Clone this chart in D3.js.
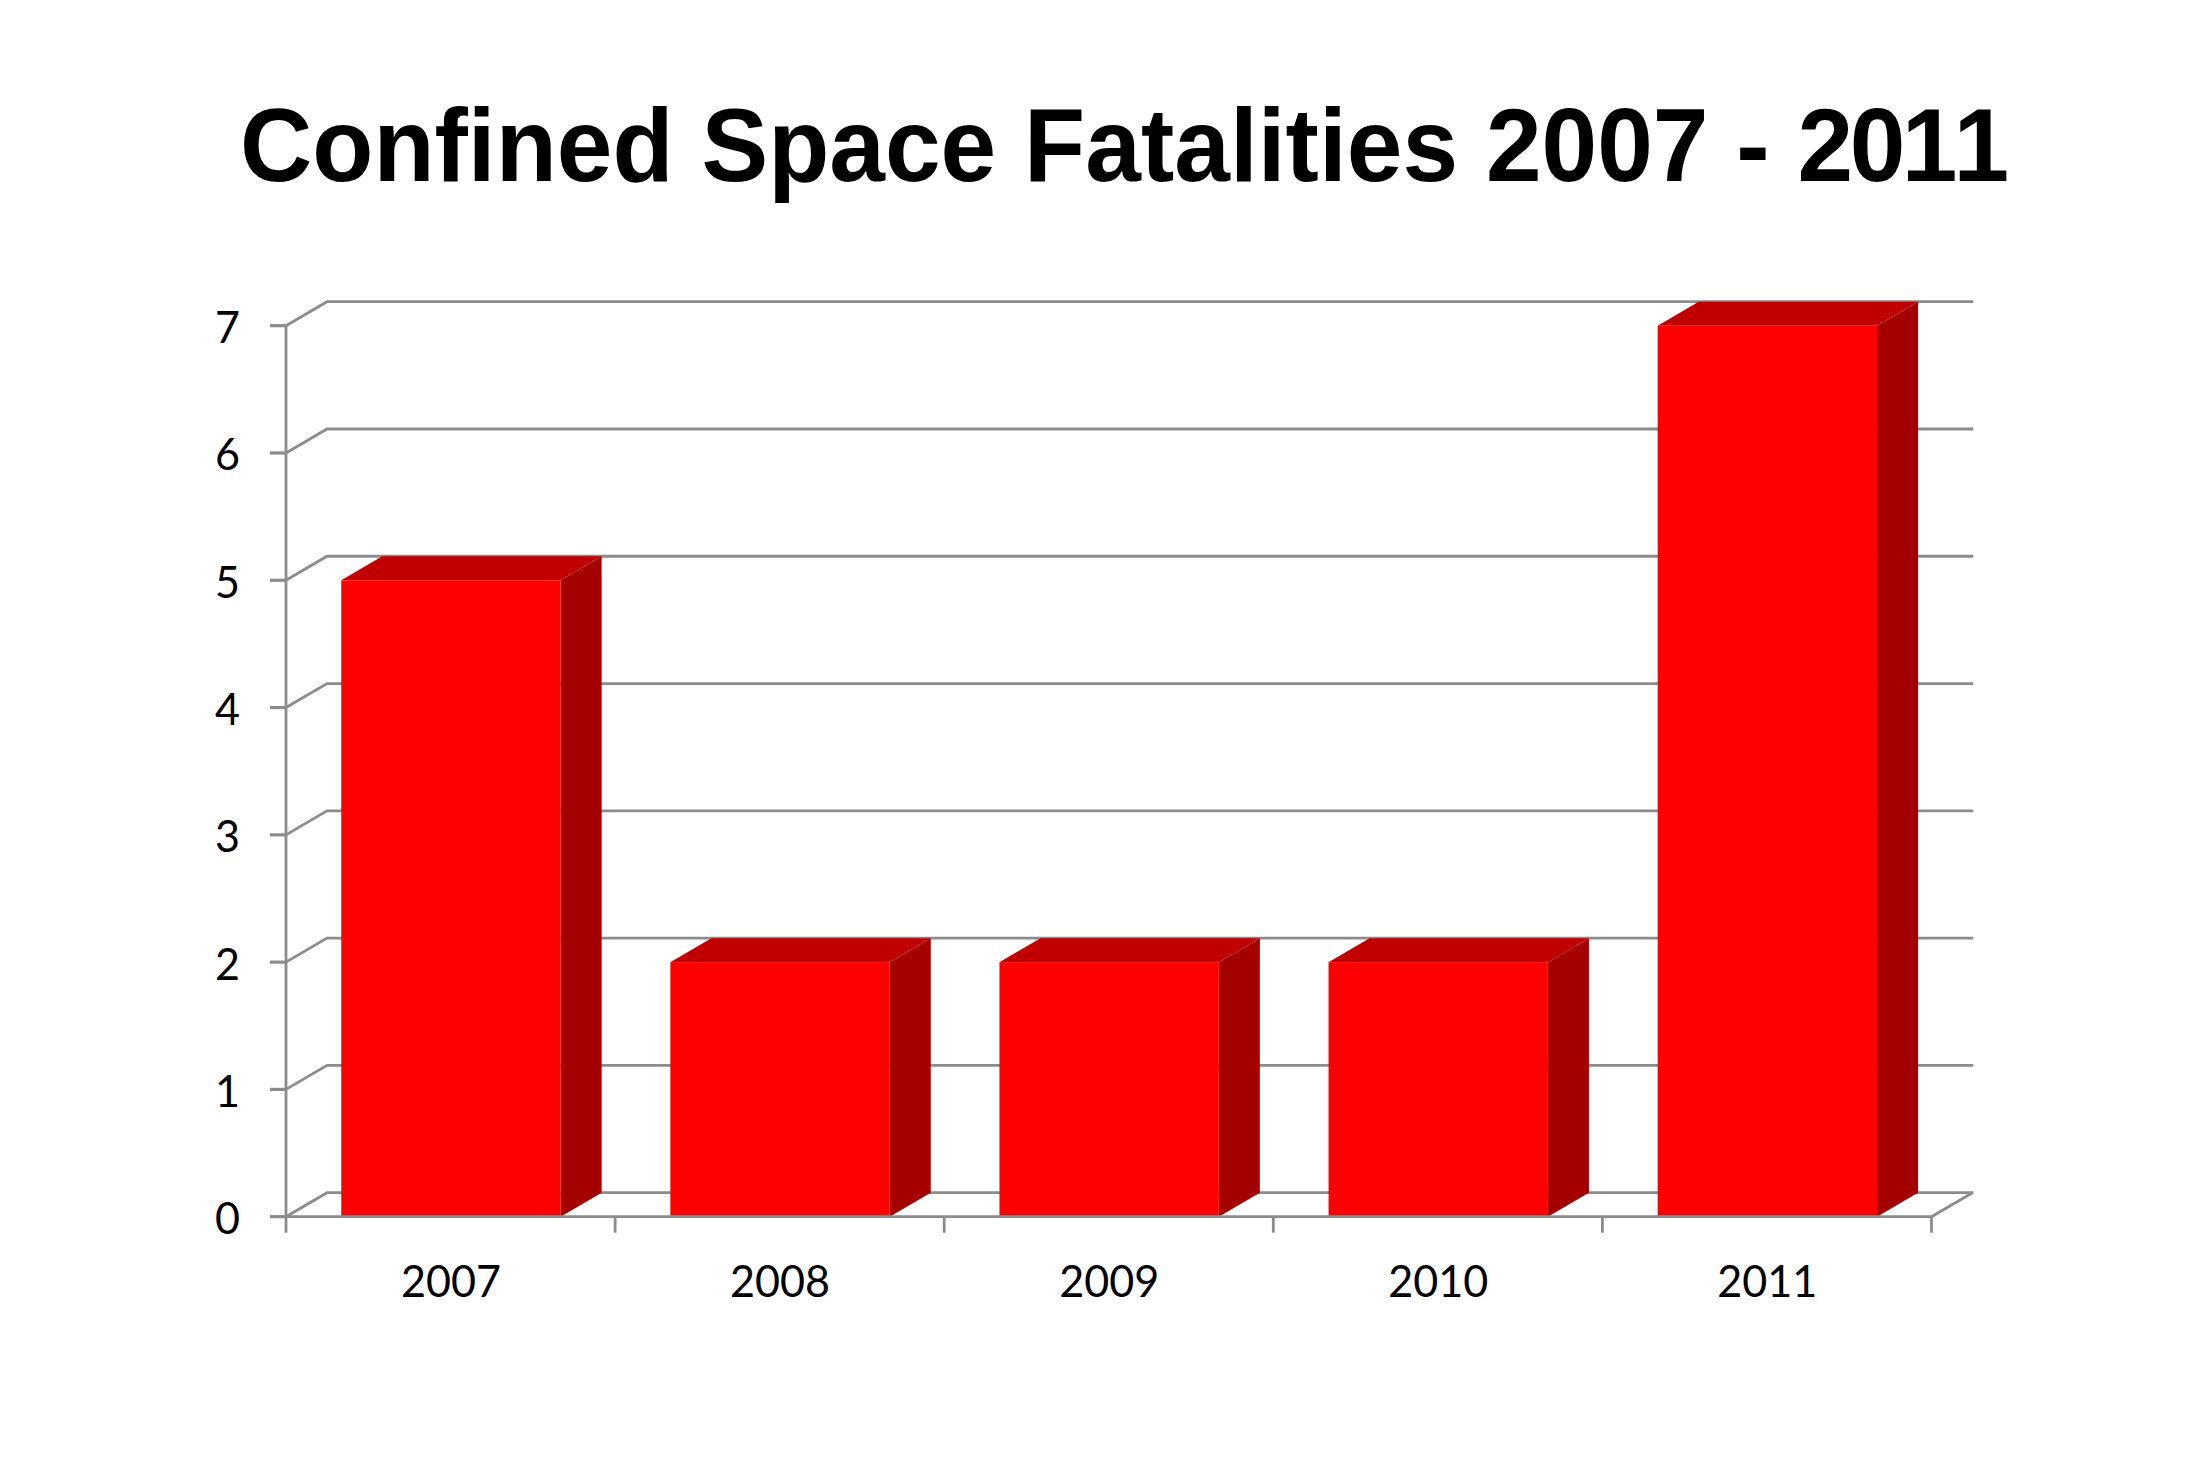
<!DOCTYPE html>
<html><head><meta charset="utf-8">
<script src="https://cdn.jsdelivr.net/npm/d3@7"></script>
<style>html,body{margin:0;padding:0;background:#fff}svg{display:block}</style>
</head><body><svg id="c" width="2200" height="1482"></svg>
<script>
const categories = ["2007","2008","2009","2010","2011"];
const fatalities = [5,2,2,2,7];
const yTicks = [0,1,2,3,4,5,6,7];
const titleText = "Confined Space Fatalities 2007 - 2011";

const svg = d3.select("#c");
const plotL=286, plotR=1931.5, plotB=1216.7, plotT=325.7, dx=41, dy=24;
const x = d3.scaleBand().domain(categories).range([plotL+0.4,plotR+0.4]).paddingInner(1/3).paddingOuter(1/6);
const step = x.step();
const y = d3.scaleLinear().domain([0,7]).range([plotB,plotT]);
const grid="#8c8c8c", gw=2.8;

const title = svg.append("text").attr("transform","translate(240,181) scale(1,1.04)").attr("text-anchor","start")
  .attr("font-family","Liberation Sans").attr("font-weight",700).attr("font-size",100)
  .style("font-kerning","none").style("letter-spacing","0px").attr("fill","#000").text(titleText);
const natural = title.node().getComputedTextLength();
const tail = {[titleText.length-3]:-3.5,[titleText.length-2]:-3.5,[titleText.length-1]:-4};
title.style("letter-spacing",((1780-natural)/titleText.length)+"px")
  .attr("dx",Array.from(titleText,(ch,i)=>tail[i]||0).join(" "));

const g = svg.append("g").attr("stroke",grid).attr("fill","none");
yTicks.forEach(v=>{
  g.append("path").attr("stroke-width",gw).attr("d",`M${plotL},${y(v)}L${plotL+dx},${y(v)-dy}H${plotR+dx+0.8}`);
  g.append("line").attr("stroke-width",gw+0.4).attr("x1",plotL-16).attr("x2",plotL).attr("y1",y(v)).attr("y2",y(v));
});
g.append("path").attr("stroke-width",gw).attr("d",`M${plotR},${plotB}L${plotR+dx},${plotB-dy}`);
g.append("line").attr("stroke-width",gw).attr("x1",plotL).attr("x2",plotL).attr("y1",plotT).attr("y2",plotB);
d3.range(categories.length+1).forEach(i=>{
  const tx=plotL+i*step;
  g.append("line").attr("stroke-width",gw).attr("x1",tx).attr("x2",tx).attr("y1",plotB).attr("y2",plotB+16);
});

const bars = svg.append("g").selectAll("g").data(categories).join("g");
bars.each(function(c,i){
  const b=d3.select(this), x0=x(c), x1=x0+x.bandwidth(), yt=y(fatalities[i]);
  b.append("path").attr("fill","#c00000").attr("d",`M${x0},${yt}L${x0+dx},${yt-dy}H${x1+dx}L${x1},${yt}Z`);
  b.append("path").attr("fill","#a50000").attr("d",`M${x1},${yt}L${x1+dx},${yt-dy}V${plotB-dy}L${x1},${plotB}Z`);
  b.append("rect").attr("fill","#ff0000").attr("x",x0).attr("y",yt).attr("width",x.bandwidth()).attr("height",plotB-yt);
});
svg.append("line").attr("stroke",grid).attr("stroke-width",gw).attr("x1",plotL).attr("x2",plotR).attr("y1",plotB).attr("y2",plotB);

const font="Lato", fs=45;
svg.append("g").selectAll("text").data(yTicks).join("text")
  .attr("x",240).attr("y",d=>y(d)+17.5).attr("text-anchor","end")
  .attr("font-family",font).attr("font-size",fs).attr("textLength",25).attr("lengthAdjust","spacingAndGlyphs")
  .attr("fill","#000").text(d=>d);
svg.append("g").selectAll("text").data(categories).join("text")
  .attr("x",c=>x(c)+x.bandwidth()/2).attr("y",1297).attr("text-anchor","middle")
  .attr("font-family",font).attr("font-size",fs).attr("textLength",100).attr("lengthAdjust","spacingAndGlyphs")
  .attr("fill","#000").text(c=>c);
</script></body></html>
